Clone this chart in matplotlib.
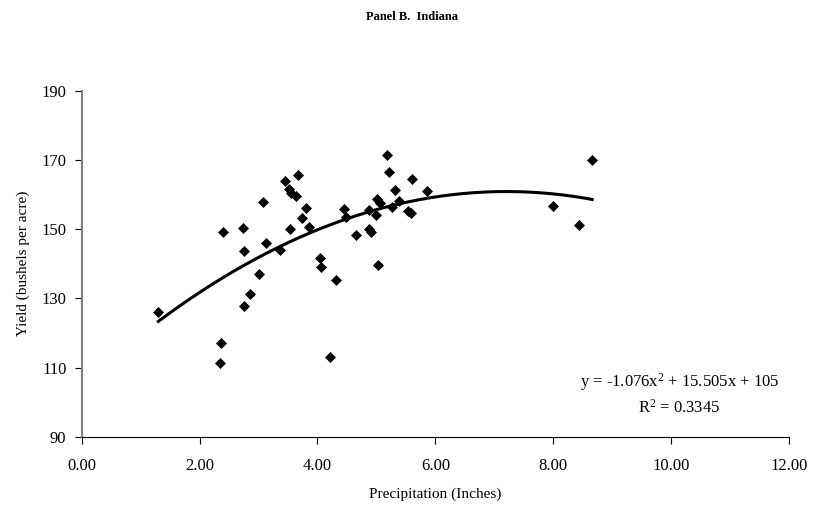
import matplotlib
matplotlib.use('Agg')
import matplotlib.pyplot as plt
import numpy as np

plt.rcParams['font.family'] = ['Liberation Serif', 'DejaVu Serif']
plt.rcParams['mathtext.fontset'] = 'custom'
plt.rcParams['mathtext.rm'] = 'Liberation Serif'
plt.rcParams['mathtext.it'] = 'Liberation Serif:italic'

# precipitation (inches) and corn yield (bushels per acre)
precip = [1.30, 2.34, 2.37, 2.39, 2.73, 2.76, 2.76, 2.86, 3.00, 3.08,
          3.13, 3.37, 3.45, 3.51, 3.55, 3.54, 3.64, 3.67, 3.73, 3.81,
          3.86, 4.04, 4.06, 4.22, 4.31, 4.45, 4.49, 4.65, 4.87, 4.88,
          4.90, 5.00, 5.01, 5.03, 5.06, 5.18, 5.22, 5.27, 5.32, 5.39,
          5.53, 5.59, 5.60, 5.85, 7.99, 8.43, 8.66]
yld = [126.0, 111.2, 117.0, 149.2, 150.4, 143.8, 127.8, 131.3, 137.0, 157.7,
       146.0, 144.0, 163.9, 161.6, 160.4, 149.9, 159.5, 165.7, 153.3, 156.0,
       150.7, 141.6, 139.0, 113.1, 135.4, 155.8, 153.4, 148.2, 155.5, 150.1,
       149.3, 154.1, 158.6, 139.7, 157.6, 171.4, 166.4, 156.5, 161.2, 158.1,
       155.2, 154.7, 164.4, 161.1, 156.6, 151.1, 170.1]

# quadratic trend as printed on the chart
coef = [-1.076, 15.505, 105]
xticks = [0, 2, 4, 6, 8, 10, 12]
yticks = [90, 110, 130, 150, 170, 190]

fig = plt.figure(figsize=(8.24, 5.05), dpi=100)
ax = fig.add_axes([0.0992, 0.1352, 0.8583, 0.6852])

ax.plot(precip, yld, 'D', color='black', markersize=4.6, markeredgewidth=0.5, zorder=3)

xs = np.linspace(min(precip), max(precip), 200)
ax.plot(xs, np.polyval(coef, xs), color='black', linewidth=2.2, zorder=2)

ax.set_xlim(0, 12)
ax.set_ylim(90, 190)
ax.set_xticks(xticks)
ax.set_yticks(yticks)
ax.set_xticklabels([f"{v:.2f}" for v in xticks])
ax.set_yticklabels([str(v) for v in yticks])
ax.tick_params(direction='out', length=5, width=0.8, labelsize=12)
ax.tick_params(axis='x', pad=10)
ax.tick_params(axis='y', pad=6)

ax.spines['top'].set_visible(False)
ax.spines['right'].set_visible(False)
ax.spines['left'].set_color('#808080')
ax.spines['left'].set_linewidth(1.5)
ax.spines['bottom'].set_color('black')
ax.spines['bottom'].set_linewidth(0.8)

ax.set_xlabel('Precipitation (Inches)', fontsize=11, labelpad=10)
ax.set_ylabel('Yield (bushels per acre)', fontsize=11, labelpad=8)

ax.text(10.14, 105.9, 'y = -1.076x$^{2}$ + 15.505x + 105', ha='center', va='center', fontsize=12)
ax.text(10.14, 98.4, 'R$^{2}$ = 0.3345', ha='center', va='center', fontsize=12)

fig.text(0.5, 0.966, 'Panel B.  Indiana', ha='center', va='center', fontsize=9, fontweight='bold')

fig.savefig('out.png', dpi=100)
